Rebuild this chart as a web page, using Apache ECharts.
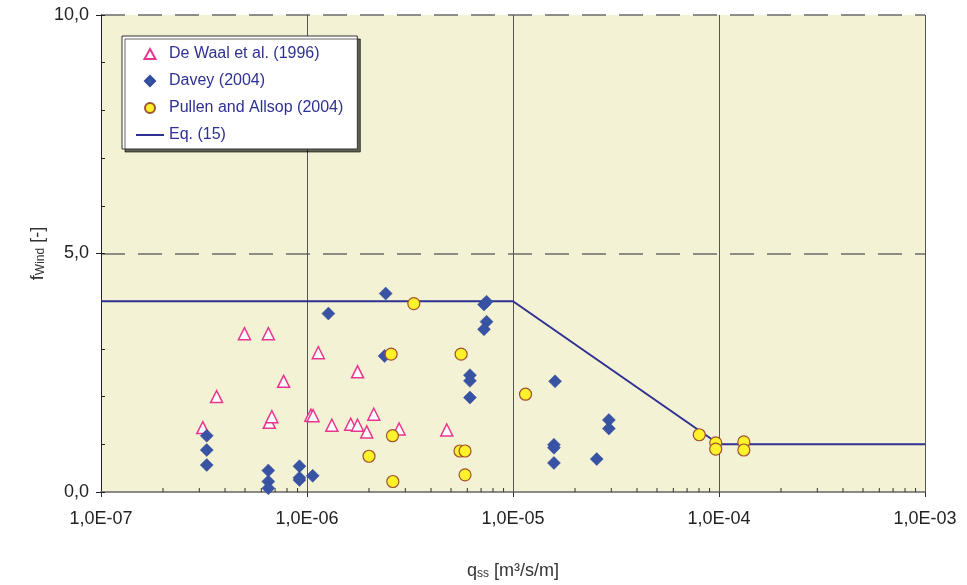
<!DOCTYPE html>
<html>
<head>
<meta charset="utf-8">
<script src="https://cdn.jsdelivr.net/npm/echarts@6/dist/echarts.min.js"></script>
<style>
    html, body { margin: 0; padding: 0; background: #fff; }
    #chart { width: 967px; height: 585px; }
</style>
</head>
<body>
<div id="chart"></div>
<script>
// De Waal et al. (1996) - [q_ss, f_wind]
const deWaal = [
    [3.12e-7, 1.35], [3.64e-7, 2.00], [4.97e-7, 3.32], [6.49e-7, 3.32],
    [6.56e-7, 1.46], [6.75e-7, 1.58], [7.7e-7, 2.32], [1.044e-6, 1.61],
    [1.07e-6, 1.60], [1.135e-6, 2.92], [1.32e-6, 1.40], [1.63e-6, 1.42],
    [1.76e-6, 1.40], [1.76e-6, 2.52], [1.95e-6, 1.26], [2.11e-6, 1.63],
    [2.8e-6, 1.32], [4.77e-6, 1.30],
]
// Davey (2004)
const davey = [
    [3.26e-7, 1.18], [3.26e-7, 0.88], [3.26e-7, 0.565],
    [6.49e-7, 0.45], [6.49e-7, 0.22], [6.49e-7, 0.08],
    [9.19e-7, 0.54], [9.19e-7, 0.30], [9.19e-7, 0.25], [1.066e-6, 0.34],
    [1.27e-6, 3.74], [2.41e-6, 4.16], [2.38e-6, 2.85],
    [6.18e-6, 2.45], [6.18e-6, 2.33], [6.18e-6, 1.98],
    [7.23e-6, 3.93], [7.44e-6, 3.99], [7.44e-6, 3.57], [7.23e-6, 3.41],
    [1.6e-5, 2.32], [1.58e-5, 0.99], [1.58e-5, 0.93], [1.58e-5, 0.61],
    [2.55e-5, 0.69], [2.92e-5, 1.51], [2.92e-5, 1.33],
]
// Pullen and Allsop (2004)
const pullen = [
    [2.0e-6, 0.75], [2.56e-6, 2.89], [2.6e-6, 1.18], [2.61e-6, 0.22],
    [3.3e-6, 3.95], [5.53e-6, 0.86], [5.6e-6, 2.89], [5.85e-6, 0.86],
    [5.85e-6, 0.36], [1.15e-5, 2.05], [8.02e-5, 1.20], [9.64e-5, 1.03],
    [9.64e-5, 0.90], [1.32e-4, 1.05], [1.32e-4, 0.88],
]
// Eq. (15)
const eq15 = [[1e-7, 4], [1e-5, 4], [1e-4, 1], [1e-3, 1]]

// minor log ticks 2..9 per decade
const decades = [1e-7, 1e-6, 1e-5, 1e-4]
const minorTicks = []
decades.forEach((d) => {
    for (let k = 2; k <= 9; k++) minorTicks.push([d * k, 0])
})

const FONT = 'Liberation Sans, Arial, sans-serif'
const chart = echarts.init(document.getElementById('chart'))

function fmtSci(v) {
    const e = Math.round(Math.log10(v))
    const s = e < 0 ? '-' : '+'
    const a = Math.abs(e)
    return '1,0E' + s + (a < 10 ? '0' + a : a)
}

chart.setOption({
    backgroundColor: '#fff',
    animation: false,
    grid: {
        left: 101, right: 42, top: 15, bottom: 92,
        show: true, backgroundColor: '#F4F2D4', borderWidth: 0,
    },
    legend: {
        orient: 'vertical',
        left: 122, top: 36,
        padding: [10, 14, 6, 14],
        itemWidth: 28, itemHeight: 10, itemGap: 11,
        symbolKeepAspect: true,
        backgroundColor: '#fff',
        borderColor: '#333', borderWidth: 1,
        shadowColor: 'rgba(0,0,0,0.6)', shadowBlur: 0, shadowOffsetX: 3, shadowOffsetY: 3,
        textStyle: { color: '#2E3192', fontSize: 16, fontFamily: FONT },
        data: [
            { name: 'De Waal et al. (1996)', icon: 'path://M5.5,0 L11,10 L0,10 Z' },
            { name: 'Davey (2004)', icon: 'path://M5,0 L10,5 L5,10 L0,5 Z' },
            { name: 'Pullen and Allsop (2004)', icon: 'circle' },
            { name: 'Eq. (15)', icon: 'path://M0,0 L28,0 L28,2 L0,2 Z' },
        ],
    },
    xAxis: {
        type: 'log', logBase: 10, min: 1e-7, max: 1e-3,
        name: '{q|q}{s|ss}{q| [m³/s/m]}',
        nameLocation: 'middle', nameGap: 68,
        nameTextStyle: {
            rich: {
                q: { fontSize: 18, fontFamily: FONT, color: '#333', lineHeight: 20, verticalAlign: 'bottom' },
                s: { fontSize: 12, fontFamily: FONT, color: '#333', lineHeight: 12, verticalAlign: 'bottom' },
            },
        },
        axisLine: { lineStyle: { color: '#666', width: 1.5 } },
        axisTick: { show: true, length: 5, lineStyle: { color: '#333' } },
        axisLabel: { formatter: fmtSci, fontSize: 18, fontFamily: FONT, color: '#222', margin: 18 },
        splitLine: { show: true, lineStyle: { color: '#555', width: 1 } },
    },
    yAxis: [
        {
            type: 'value', min: 0, max: 10, interval: 5, position: 'left',
            name: '{f|f}{s|Wind}{f| [-]}',
            nameLocation: 'middle', nameGap: 54, nameMoveOverlap: false,
            nameTextStyle: {
                rich: {
                    f: { fontSize: 18, fontFamily: FONT, color: '#333', lineHeight: 20, verticalAlign: 'bottom' },
                    s: { fontSize: 12, fontFamily: FONT, color: '#333', lineHeight: 12, verticalAlign: 'bottom' },
                },
            },
            axisLine: { show: true, lineStyle: { color: '#222', width: 1 } },
            axisTick: { show: true, length: 5, lineStyle: { color: '#222' } },
            axisLabel: { formatter: (v) => v.toFixed(1).replace('.', ','), fontSize: 18, fontFamily: FONT, color: '#222', margin: 12 },
            splitLine: { show: true, lineStyle: { color: ['rgba(0,0,0,0)', '#6b6b6b', '#6b6b6b'], width: 1.5, type: [24, 13] } },
        },
        {
            type: 'value', min: 0, max: 10, interval: 1, position: 'left',
            axisLine: { show: false },
            axisTick: { show: true, inside: true, length: 4, lineStyle: { color: '#222' } },
            axisLabel: { show: false },
            splitLine: { show: false },
        },
    ],
    series: [
        {
            name: 'minor', type: 'custom', silent: true, z: 1,
            data: minorTicks,
            renderItem: (params, api) => {
                const p = api.coord([api.value(0), api.value(1)])
                return { type: 'line', shape: { x1: p[0], y1: p[1], x2: p[0], y2: p[1] - 4 }, style: { stroke: '#333', lineWidth: 1 } }
            },
        },
        {
            name: 'Eq. (15)', type: 'line', data: eq15, symbol: 'none', z: 2,
            lineStyle: { color: '#2E3192', width: 2 }, itemStyle: { color: '#2E3192' },
        },
        {
            name: 'De Waal et al. (1996)', type: 'scatter', data: deWaal, symbol: 'triangle', symbolSize: 12, z: 3,
            itemStyle: { color: '#fff', borderColor: '#E8368F', borderWidth: 1.5, opacity: 1 },
        },
        {
            name: 'Davey (2004)', type: 'scatter', data: davey, symbol: 'diamond', symbolSize: 13, z: 4,
            itemStyle: { color: '#3953A4', borderColor: '#2F4A9A', borderWidth: 0.5, opacity: 1 },
        },
        {
            name: 'Pullen and Allsop (2004)', type: 'scatter', data: pullen, symbol: 'circle', symbolSize: 12, z: 5,
            itemStyle: { color: '#FFF12A', borderColor: '#A0522D', borderWidth: 1.2, opacity: 1 },
        },
    ],
})
</script>
</body>
</html>
